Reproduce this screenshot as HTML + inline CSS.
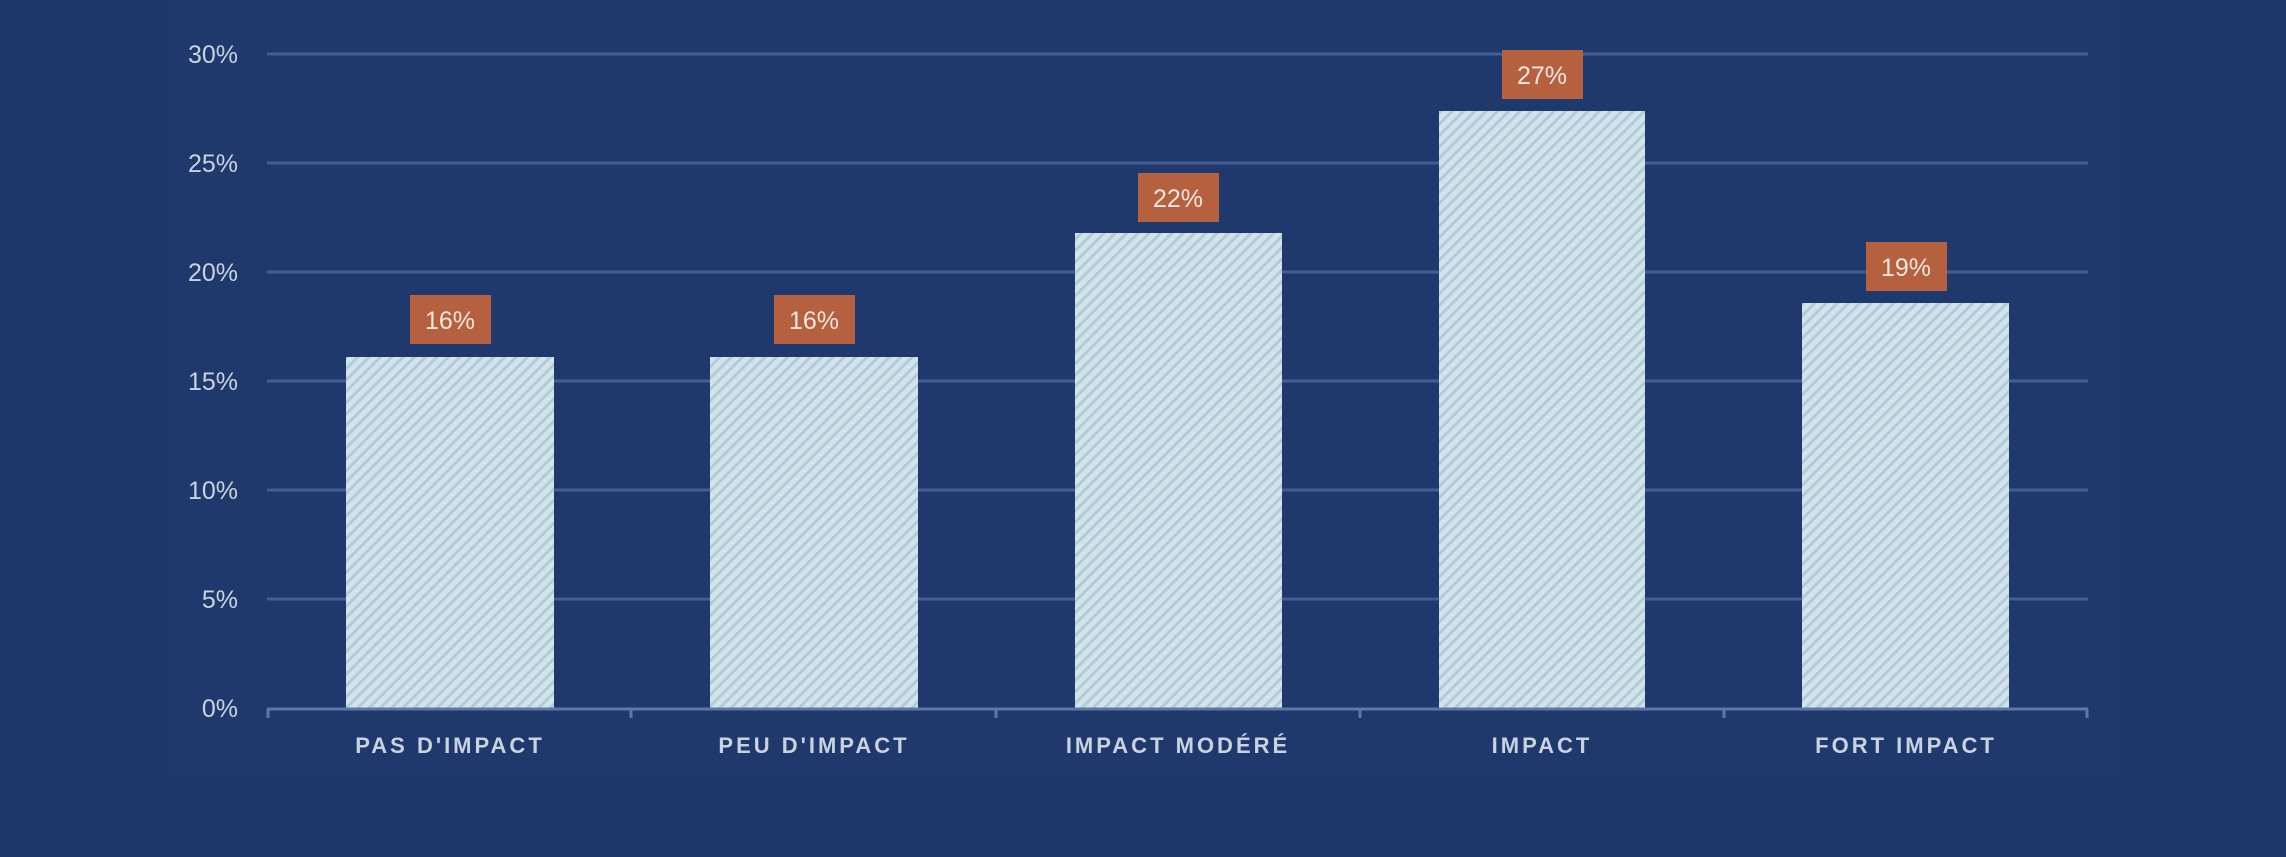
<!DOCTYPE html>
<html><head><meta charset="utf-8"><style>
html,body{margin:0;padding:0;background:#1e386c;}
svg{display:block;}
</style></head><body>
<svg width="2286" height="857" viewBox="0 0 2286 857" xmlns="http://www.w3.org/2000/svg">
<defs>
<pattern id="h" width="8" height="8" patternUnits="userSpaceOnUse" patternTransform="rotate(45)">
<rect width="8" height="8" fill="#d3e3ea"/>
<rect width="3" height="8" fill="#b2cbd8"/>
</pattern>
</defs>
<rect width="2286" height="857" fill="#1e386c"/>
<rect x="168" y="0" width="1946" height="775" fill="#1f396d"/>
<g stroke="#435e92" stroke-width="3">
<line x1="267" y1="54" x2="2088" y2="54"/>
<line x1="267" y1="163" x2="2088" y2="163"/>
<line x1="267" y1="272" x2="2088" y2="272"/>
<line x1="267" y1="381" x2="2088" y2="381"/>
<line x1="267" y1="490" x2="2088" y2="490"/>
<line x1="267" y1="599" x2="2088" y2="599"/>
</g>
<g font-family="Liberation Sans, sans-serif" font-size="25" fill="#c9d3e0" text-anchor="end">
<text x="238" y="63">30%</text>
<text x="238" y="172">25%</text>
<text x="238" y="281">20%</text>
<text x="238" y="390">15%</text>
<text x="238" y="499">10%</text>
<text x="238" y="608">5%</text>
<text x="238" y="717">0%</text>
</g>
<g fill="url(#h)">
<rect x="346" y="357" width="208" height="351"/>
<rect x="710" y="357" width="208" height="351"/>
<rect x="1075" y="233" width="207" height="475"/>
<rect x="1439" y="111" width="206" height="597"/>
<rect x="1802" y="303" width="207" height="405"/>
</g>
<g stroke="#5c77a8" stroke-width="3">
<line x1="267" y1="709" x2="2088" y2="709"/>
<line x1="268" y1="709" x2="268" y2="718"/>
<line x1="631" y1="709" x2="631" y2="718"/>
<line x1="996" y1="709" x2="996" y2="718"/>
<line x1="1360" y1="709" x2="1360" y2="718"/>
<line x1="1724" y1="709" x2="1724" y2="718"/>
<line x1="2087" y1="709" x2="2087" y2="718"/>
</g>
<g fill="#b5603f">
<rect x="410" y="295" width="81" height="49"/>
<rect x="774" y="295" width="81" height="49"/>
<rect x="1138" y="173" width="81" height="49"/>
<rect x="1502" y="50" width="81" height="49"/>
<rect x="1866" y="242" width="81" height="49"/>
</g>
<g font-family="Liberation Sans, sans-serif" font-size="25" fill="#f2e6de" text-anchor="middle">
<text x="450" y="329">16%</text>
<text x="814" y="329">16%</text>
<text x="1178" y="207">22%</text>
<text x="1542" y="84">27%</text>
<text x="1906" y="276">19%</text>
</g>
<g font-family="Liberation Sans, sans-serif" font-size="22" font-weight="bold" fill="#c9d3e0" text-anchor="middle" letter-spacing="3">
<text x="450" y="753">PAS D'IMPACT</text>
<text x="814" y="753">PEU D'IMPACT</text>
<text x="1178" y="753">IMPACT MODÉRÉ</text>
<text x="1542" y="753">IMPACT</text>
<text x="1906" y="753">FORT IMPACT</text>
</g>
</svg>
</body></html>
